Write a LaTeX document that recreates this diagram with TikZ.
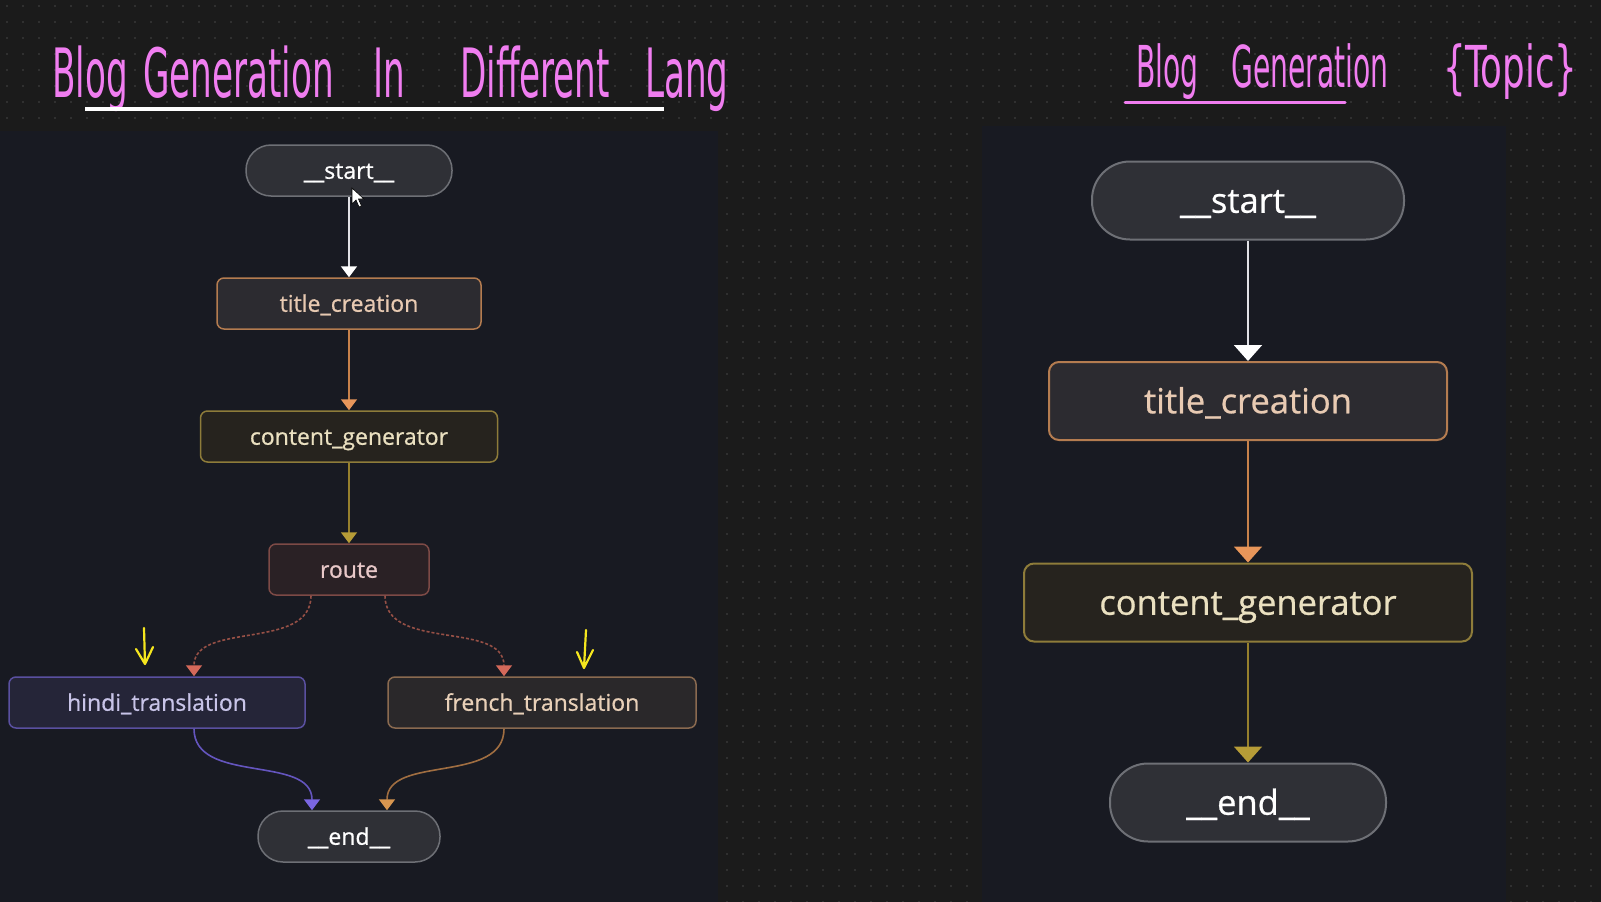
\documentclass[tikz,border=0pt]{standalone}
\usepackage{fontspec}
\setmainfont{Open Sans}
\newfontfamily\nodefont{Open Sans}[FakeBold=0.7]
\newfontfamily\handfont{DejaVu Sans Condensed}
\usetikzlibrary{arrows.meta}

\definecolor{outerbg}{RGB}{27,27,27}
\definecolor{panelbg}{RGB}{24,26,34}
\definecolor{griddot}{RGB}{56,56,56}
\definecolor{handpink}{RGB}{240,125,240}
\definecolor{handyellow}{RGB}{245,230,30}
% node colours
\definecolor{pillfill}{RGB}{47,48,54}
\definecolor{pilldraw}{RGB}{110,112,118}
\definecolor{titlefill}{RGB}{44,43,48}
\definecolor{titledraw}{RGB}{180,124,80}
\definecolor{titletext}{RGB}{232,202,178}
\definecolor{contentfill}{RGB}{38,35,30}
\definecolor{contentdraw}{RGB}{142,124,58}
\definecolor{contenttext}{RGB}{234,224,192}
\definecolor{routefill}{RGB}{42,33,37}
\definecolor{routedraw}{RGB}{125,74,70}
\definecolor{routetext}{RGB}{232,200,200}
\definecolor{hindifill}{RGB}{37,37,56}
\definecolor{hindidraw}{RGB}{90,80,160}
\definecolor{hinditext}{RGB}{200,196,232}
\definecolor{frenchfill}{RGB}{42,40,42}
\definecolor{frenchdraw}{RGB}{138,106,80}
\definecolor{frenchtext}{RGB}{232,208,184}
% edge colours
\definecolor{wedge}{RGB}{225,225,230}
\definecolor{oedge}{RGB}{200,130,75}
\definecolor{otip}{RGB}{232,150,90}
\definecolor{gedge}{RGB}{150,128,45}
\definecolor{gtip}{RGB}{182,156,55}
\definecolor{redge}{RGB}{150,80,70}
\definecolor{rtip}{RGB}{212,105,90}
\definecolor{pedge}{RGB}{100,85,190}
\definecolor{ptip}{RGB}{122,102,226}
\definecolor{bedge}{RGB}{160,110,65}
\definecolor{btip}{RGB}{216,150,80}

\newcommand\lhw[1]{\scalebox{0.95}[1.7]{#1}}
\newcommand\rhw[1]{\scalebox{0.95}[1.75]{#1}}

\begin{document}
\begin{tikzpicture}[x=1pt,y=-1pt,
  every node/.style={inner sep=0pt},
  lbox/.style={draw, line width=1.5pt, rounded corners=7pt, minimum height=51pt,
    text height=20.5pt, text depth=4pt, font=\nodefont\fontsize{23}{24}\selectfont},
  lpill/.style={lbox, rounded corners=25pt, fill=pillfill, draw=pilldraw, text=white},
  rbox/.style={draw, line width=2pt, rounded corners=10pt, minimum height=78pt,
    text height=30.5pt, text depth=6pt, font=\nodefont\fontsize{34.5}{36}\selectfont},
  rpill/.style={rbox, rounded corners=38pt, fill=pillfill, draw=pilldraw, text=white},
  ltip/.style={-{Triangle[width=16pt,length=11pt,color=#1]}},
  rtipx/.style={-{Triangle[width=28pt,length=16pt,color=#1]}},
  hand/.style={text=handpink, anchor=base west},
  handarrow/.style={handyellow, line width=2.2pt, line cap=round, line join=round}]

\useasboundingbox[fill=outerbg] (0,0) rectangle (1601,902);
\foreach \x in {7,23,...,1601} {\foreach \y in {6,22,...,902} {\fill[griddot] (\x,\y) circle (1.1pt);}}
\fill[panelbg] (0,131) rectangle (718,902);
\fill[panelbg] (982,126) rectangle (1506,902);

% titles
\foreach \w/\x in {Blog/52,Generation/143,In/373,Different/460,Lang/645}
  {\node[hand, font=\handfont\fontsize{40}{40}\selectfont] at (\x,97) {\lhw{\w}};}
\foreach \w/\x in {Blog/1136,Generation/1231}
  {\node[hand, font=\handfont\fontsize{33}{33}\selectfont] at (\x,87) {\rhw{\w}};}
\node[hand, font=\handfont\fontsize{33}{33}\selectfont] (topic) at (1443,87) {\scalebox{1.2}[1.75]{\{Topic\}}};
\draw[white, line width=4pt] (85,109) -- (664,109);
\draw[handpink, line width=3pt, line cap=round] (1125,102) -- (1345,102);

% left graph
\node[lpill, minimum width=206pt] (lstart) at (349,170.5) {\_\_start\_\_};
\node[lbox, minimum width=264pt, fill=titlefill, draw=titledraw, text=titletext] (ltitle) at (349,303.5) {title\_creation};
\node[lbox, minimum width=297pt, fill=contentfill, draw=contentdraw, text=contenttext] (lcontent) at (349,436.5) {content\_generator};
\node[lbox, minimum width=160pt, fill=routefill, draw=routedraw, text=routetext] (lroute) at (349,569.5) {route};
\node[lbox, minimum width=296pt, fill=hindifill, draw=hindidraw, text=hinditext] (lhindi) at (157,702.5) {hindi\_translation};
\node[lbox, minimum width=308pt, fill=frenchfill, draw=frenchdraw, text=frenchtext] (lfrench) at (542,702.5) {french\_translation};
\node[lpill, minimum width=182pt] (lend) at (349,836.5) {\_\_end\_\_};

\path (lstart) edge[wedge, line width=1.6pt, ltip=white] (ltitle)
(ltitle) edge[oedge, line width=1.6pt, ltip=otip] (lcontent)
(lcontent) edge[gedge, line width=1.6pt, ltip=gtip] (lroute)
([xshift=-38pt]lroute.south) edge[redge, line width=1.6pt, dash pattern=on 3pt off 2pt, ltip=rtip, out=-90, in=90] ([xshift=37pt]lhindi.north)
([xshift=36pt]lroute.south) edge[redge, line width=1.6pt, dash pattern=on 3pt off 2pt, ltip=rtip, out=-90, in=90] ([xshift=-38pt]lfrench.north)
([xshift=37pt]lhindi.south) edge[pedge, line width=1.6pt, ltip=ptip, out=-90, in=90] ([xshift=-37pt]lend.north)
([xshift=-38pt]lfrench.south) edge[bedge, line width=1.6pt, ltip=btip, out=-90, in=90] ([xshift=38pt]lend.north);

% mouse pointer
\filldraw[fill=white, draw=black, line width=0.6pt] (352,188) -- ++(0,16) -- ++(4,-4) -- ++(3,7) -- ++(2.5,-1) -- ++(-3,-7) -- ++(5.5,0) -- cycle;

% yellow marks
\draw[handarrow] (144,628) -- (145,664) (136,649) -- (145,664) -- (153,647);
\draw[handarrow] (586,630) -- (584,668) (577,652) -- (584,668) -- (593,650);

% right graph
\node[rpill, minimum width=312pt] (rstart) at (1248,200.5) {\_\_start\_\_};
\node[rbox, minimum width=398pt, fill=titlefill, draw=titledraw, text=titletext] (rtitle) at (1248,401) {title\_creation};
\node[rbox, minimum width=448pt, fill=contentfill, draw=contentdraw, text=contenttext] (rcontent) at (1248,602.5) {content\_generator};
\node[rpill, minimum width=276pt] (rend) at (1248,802.5) {\_\_end\_\_};

\path (rstart) edge[wedge, line width=2pt, rtipx=white] (rtitle)
(rtitle) edge[oedge, line width=2pt, rtipx=otip] (rcontent)
(rcontent) edge[gedge, line width=2pt, rtipx=gtip] (rend);
\end{tikzpicture}
\end{document}
